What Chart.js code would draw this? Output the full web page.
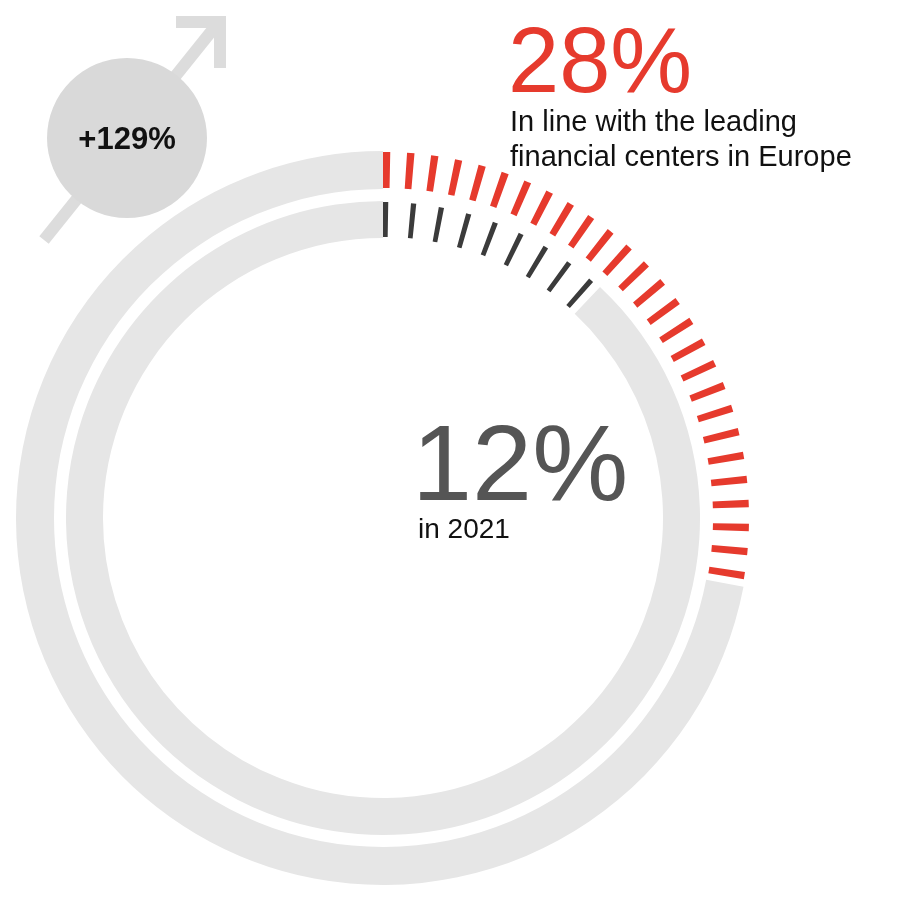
<!DOCTYPE html>
<html><head><meta charset="utf-8">
<script src="https://cdn.jsdelivr.net/npm/chart.js@4"></script>
<style>html,body{margin:0;padding:0;background:#fff}canvas{display:block}</style>
</head><body>
<canvas id="c" width="900" height="900"></canvas>
<script>
const categories = ["2021", "Target"];
const shareTarget = 28;   // outer ring, %
const share2021 = 12;     // inner ring, %
const growthLabel = "+129%";
const targetLabel = "28%";
const targetText = ["In line with the leading", "financial centers in Europe"];
const currentLabel = "12%";
const currentText = "in 2021";

const RED = "#e63a2d", DARK = "#3b3b3b", GREY = "#e6e6e6";
const FONT = "'Liberation Sans', Arial, sans-serif";

const dashPlugin = {
  id: 'dashes',
  beforeDatasetsDraw(chart) {
    const ctx = chart.ctx;
    ctx.save();
    ctx.strokeStyle = "#dcdcdc"; ctx.lineWidth = 12; ctx.lineCap = "butt";
    ctx.beginPath(); ctx.moveTo(44, 240); ctx.lineTo(214, 28); ctx.stroke();
    ctx.lineJoin = "miter";
    ctx.beginPath(); ctx.moveTo(176, 22); ctx.lineTo(220, 22); ctx.lineTo(220, 68); ctx.stroke();
    ctx.fillStyle = "#d9d9d9";
    ctx.beginPath(); ctx.arc(127, 138, 80, 0, Math.PI * 2); ctx.fill();
    ctx.fillStyle = "#111"; ctx.font = "bold 31px " + FONT;
    ctx.textAlign = "center"; ctx.textBaseline = "middle";
    ctx.fillText(growthLabel, 127, 140);
    ctx.restore();
  },
  afterDatasetsDraw(chart) {
    const ctx = chart.ctx;
    const specs = [
      {ds: 0, color: RED, dash: [7, 16], shrink: 2},
      {ds: 2, color: DARK, dash: [5, 21.5], shrink: 2}
    ];
    specs.forEach(s => {
      const arc = chart.getDatasetMeta(s.ds).data[0];
      const p = arc.getProps(['x','y','startAngle','endAngle','innerRadius','outerRadius'], true);
      const r = (p.innerRadius + p.outerRadius) / 2;
      ctx.save();
      ctx.strokeStyle = s.color;
      ctx.lineWidth = p.outerRadius - p.innerRadius - s.shrink;
      ctx.setLineDash(s.dash);
      ctx.beginPath();
      ctx.arc(p.x, p.y, r, p.startAngle, p.endAngle);
      ctx.stroke();
      ctx.restore();
    });
    ctx.save();
    ctx.textAlign = "left"; ctx.textBaseline = "alphabetic";
    ctx.fillStyle = RED; ctx.font = "92px " + FONT;
    ctx.fillText(targetLabel, 508, 92);
    ctx.fillStyle = "#111"; ctx.font = "29px " + FONT;
    ctx.fillText(targetText[0], 510, 131);
    ctx.fillText(targetText[1], 510, 166);
    ctx.fillStyle = "#555"; ctx.font = "108px " + FONT;
    ctx.fillText(currentLabel, 412, 500);
    ctx.fillStyle = "#111"; ctx.font = "28px " + FONT;
    ctx.fillText(currentText, 418, 538);
    ctx.restore();
  }
};

new Chart(document.getElementById('c'), {
  type: 'doughnut',
  data: {
    labels: categories,
    datasets: [
      {data: [shareTarget, 100 - shareTarget], backgroundColor: ['rgba(0,0,0,0)', GREY], borderWidth: 0, weight: 38},
      {data: [100], backgroundColor: ['rgba(0,0,0,0)'], borderWidth: 0, weight: 12},
      {data: [share2021, 100 - share2021], backgroundColor: ['rgba(0,0,0,0)', GREY], borderWidth: 0, weight: 37}
    ]
  },
  options: {
    responsive: false,
    animation: false,
    cutout: '76.3%',
    layout: {padding: {left: 16, right: 150, top: 151, bottom: 15}},
    plugins: {legend: {display: false}, tooltip: {enabled: false}}
  },
  plugins: [dashPlugin]
});
</script>
</body></html>
